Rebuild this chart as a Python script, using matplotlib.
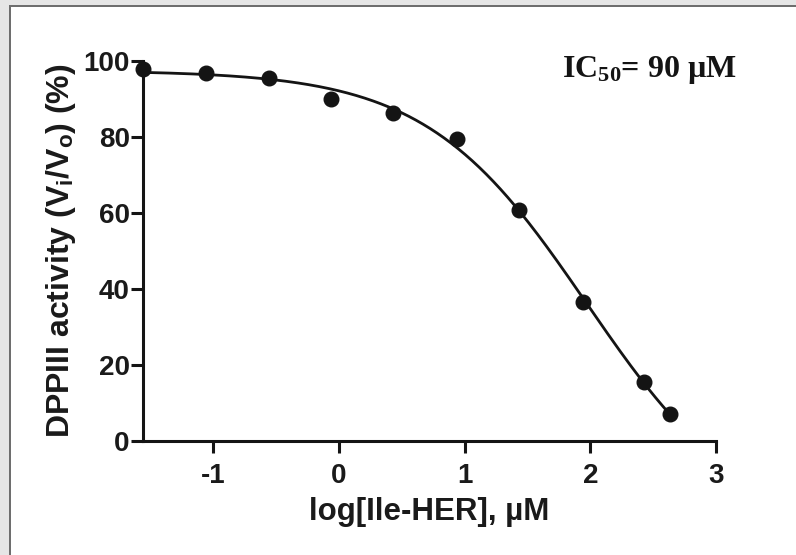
import numpy as np
import matplotlib
matplotlib.use("Agg")
import matplotlib.pyplot as plt
from matplotlib.patches import Rectangle

# Data
log_conc = [-1.56, -1.06, -0.56, -0.06, 0.43, 0.94, 1.43, 1.94, 2.43, 2.63]
activity = [98.0, 96.9, 95.6, 90.0, 86.3, 79.5, 60.8, 36.7, 15.6, 7.0]
xticks = [-1, 0, 1, 2, 3]
yticks = [0, 20, 40, 60, 80, 100]

x = np.array(log_conc)
y = np.array(activity)

# Fit a four-parameter logistic curve to the points (grid search over
# logIC50 / hill; top and bottom by linear least squares)
best = None
for lc in np.linspace(1.0, 2.5, 151):
    for h in np.linspace(0.5, 2.0, 151):
        f = 1.0 / (1.0 + 10 ** ((x - lc) * h))
        A = np.column_stack([np.ones_like(f), f])
        coef, *_ = np.linalg.lstsq(A, y, rcond=None)
        r = np.sum((A @ coef - y) ** 2)
        if best is None or r < best[0]:
            best = (r, lc, h, coef)
_, lc, h, (bottom, span) = best
xf = np.linspace(x.min(), x.max(), 300)
yf = bottom + span / (1.0 + 10 ** ((xf - lc) * h))

plt.rcParams['axes.unicode_minus'] = False
plt.rcParams['mathtext.fontset'] = 'custom'
plt.rcParams['mathtext.rm'] = 'Liberation Serif:bold'
plt.rcParams['mathtext.it'] = 'Liberation Serif:bold'
plt.rcParams['mathtext.bf'] = 'Liberation Serif:bold'
plt.rcParams['mathtext.sf'] = 'Liberation Sans:bold'

fig = plt.figure(figsize=(7.96, 5.55), dpi=100)
fig.patch.set_facecolor('white')

# frame strips of the original screenshot
fig.patches.append(Rectangle((0, 0), 9 / 796, 1, transform=fig.transFigure,
                             facecolor='#e6e6e6', edgecolor='none', zorder=0))
fig.patches.append(Rectangle((0, 1 - 5 / 555), 1, 5 / 555, transform=fig.transFigure,
                             facecolor='#e6e6e6', edgecolor='none', zorder=0))
fig.patches.append(Rectangle((9 / 796, 0), 2 / 796, 1 - 5 / 555, transform=fig.transFigure,
                             facecolor='#6e6e6e', edgecolor='none', zorder=1))
fig.patches.append(Rectangle((9 / 796, 1 - 7 / 555), 1 - 9 / 796, 2 / 555, transform=fig.transFigure,
                             facecolor='#6e6e6e', edgecolor='none', zorder=1))

ax = fig.add_axes([143 / 796, 1 - 441 / 555, (716 - 143) / 796, (441 - 61) / 555])
ax.set_facecolor('none')

ax.plot(xf, yf, color='#141414', lw=2.0, clip_on=False, zorder=3)
ax.plot(x, y, 'o', color='#141414', ms=10.5, clip_on=False, zorder=4)

ax.set_xlim(-1.56, 3)
ax.set_ylim(0, 100)
ax.set_xticks(xticks)
ax.set_yticks(yticks)
for s in ['top', 'right']:
    ax.spines[s].set_visible(False)
for s in ['left', 'bottom']:
    ax.spines[s].set_linewidth(2.2)
    ax.spines[s].set_color('#141414')
ax.tick_params(axis='both', width=2.2, length=8.5, color='#141414',
               labelcolor='#1a1a1a', labelsize=20)
ax.tick_params(axis='x', pad=7)
ax.tick_params(axis='y', pad=1)
for lab in ax.get_xticklabels() + ax.get_yticklabels():
    lab.set_fontfamily('Liberation Sans')
    lab.set_fontweight('bold')

ax.set_xlabel('log[Ile-HER], µM', fontfamily='Liberation Sans', fontweight='bold',
              fontsize=22.5, color='#1a1a1a', labelpad=6)
ax.set_ylabel(r'DPPIII activity (V$_\mathsf{i}$/V$_\mathsf{o}$) (%)',
              fontfamily='Liberation Sans', fontweight='bold',
              fontsize=23, color='#1a1a1a', labelpad=4)

fig.text(562 / 796, 1 - 77 / 555, r'IC$_\mathregular{50}$= 90 µM',
         fontfamily='Liberation Serif', fontweight='bold', fontsize=23,
         color='#141414', ha='left', va='baseline')

fig.savefig('out.png', dpi=100)
